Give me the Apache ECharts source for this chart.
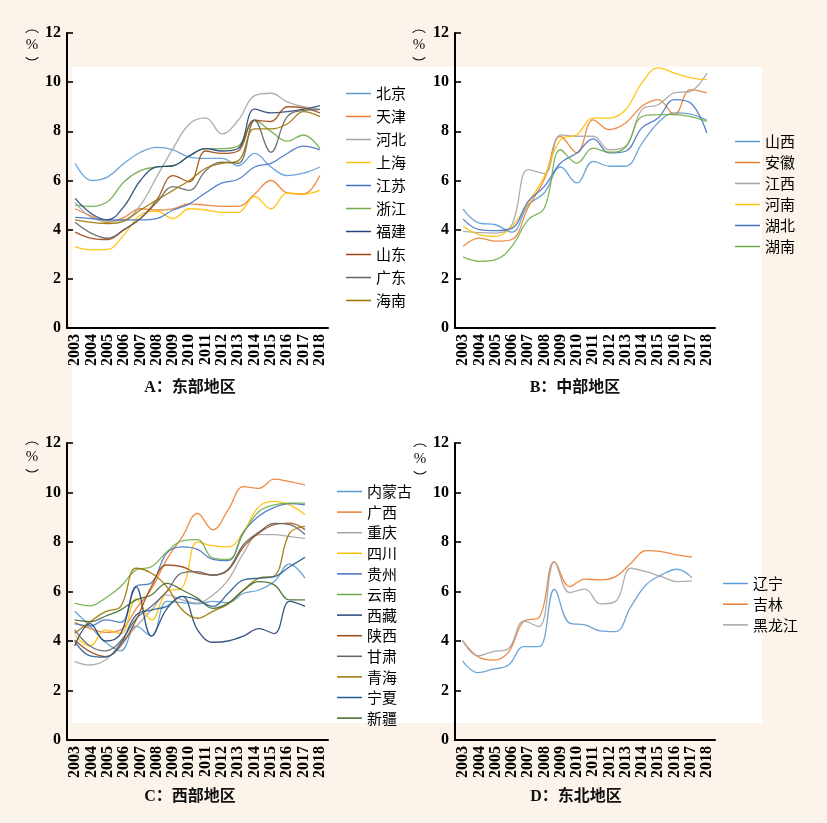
<!DOCTYPE html>
<html>
<head>
<meta charset="utf-8">
<script src="https://cdn.jsdelivr.net/npm/echarts@6/dist/echarts.min.js"></script>
<style>
html,body{margin:0;padding:0;background:#fcf4ea;}
#c{width:827px;height:823px;}
</style>
</head>
<body>
<div id="c"></div>
<script>
// ---------- categories ----------
const years = ['2003','2004','2005','2006','2007','2008','2009','2010','2011','2012','2013','2014','2015','2016','2017','2018'];
const yTickMin = 0, yTickMax = 12, yTickStep = 2;

// ---------- A: 东部地区 ----------
const eastNames = ['北京','天津','河北','上海','江苏','浙江','福建','山东','广东','海南'];
const beijing  = [6.7, 6.0, 6.15, 6.7, 7.15, 7.35, 7.25, 6.95, 6.9, 6.9, 6.6, 7.1, 6.55, 6.2, 6.3, 6.55];
const tianjin  = [4.85, 4.55, 4.3, 4.5, 4.85, 4.8, 4.85, 5.05, 5.0, 4.95, 4.95, 5.45, 6.0, 5.5, 5.45, 6.2];
const hebei    = [5.1, 4.5, 4.35, 4.4, 5.0, 6.15, 7.3, 8.3, 8.55, 7.9, 8.45, 9.45, 9.55, 9.2, 9.0, 8.9];
const shanghai = [3.3, 3.18, 3.2, 3.8, 4.6, 4.75, 4.45, 4.85, 4.8, 4.7, 4.7, 5.35, 4.85, 5.5, 5.45, 5.6];
const jiangsu  = [4.5, 4.45, 4.4, 4.4, 4.4, 4.45, 4.8, 5.05, 5.5, 5.9, 6.05, 6.55, 6.7, 7.1, 7.4, 7.25];
const zhejiang = [5.0, 4.95, 5.15, 5.95, 6.4, 6.55, 6.6, 7.0, 7.3, 7.3, 7.4, 8.45, 8.0, 7.6, 7.85, 7.3];
const fujian   = [5.27, 4.65, 4.4, 4.95, 6.0, 6.55, 6.6, 7.0, 7.3, 7.2, 7.3, 8.9, 8.75, 8.8, 8.9, 9.05];
const shandong = [3.9, 3.65, 3.6, 4.0, 4.45, 5.2, 6.2, 5.95, 7.2, 7.1, 7.2, 8.45, 8.4, 9.0, 8.95, 8.75];
const guangdong= [4.3, 3.85, 3.65, 4.0, 4.45, 5.1, 5.75, 5.6, 6.4, 6.75, 6.7, 8.45, 7.15, 8.6, 8.85, 8.88];
const hainan   = [4.4, 4.3, 4.25, 4.35, 4.8, 5.2, 5.6, 6.0, 6.5, 6.7, 6.8, 8.1, 8.1, 8.3, 8.8, 8.6];
const eastData = [beijing, tianjin, hebei, shanghai, jiangsu, zhejiang, fujian, shandong, guangdong, hainan];

// ---------- B: 中部地区 ----------
const centralNames = ['山西','安徽','江西','河南','湖北','湖南'];
const shanxi  = [4.84, 4.27, 4.2, 3.9, 5.0, 5.5, 6.55, 5.9, 6.78, 6.58, 6.58, 7.5, 8.35, 8.75, 8.7, 8.45];
const anhui   = [3.32, 3.66, 3.53, 3.6, 4.9, 6.05, 7.8, 7.12, 8.47, 8.07, 8.34, 9.02, 9.29, 8.68, 9.7, 9.56];
const jiangxi = [3.93, 3.88, 3.86, 4.2, 6.44, 6.28, 7.86, 7.8, 7.8, 7.25, 7.39, 8.88, 9.08, 9.56, 9.63, 10.37];
const henan   = [4.14, 3.8, 3.73, 4.14, 5.08, 6.17, 7.66, 7.86, 8.54, 8.54, 8.88, 9.97, 10.58, 10.37, 10.17, 10.1];
const hubei   = [4.43, 4.0, 3.96, 4.05, 5.15, 5.76, 6.71, 7.12, 7.69, 7.12, 7.19, 8.14, 8.54, 9.29, 9.15, 7.93];
const hunan   = [2.89, 2.71, 2.78, 3.32, 4.4, 4.88, 7.25, 6.71, 7.32, 7.15, 7.35, 8.6, 8.68, 8.68, 8.6, 8.4];
const centralData = [shanxi, anhui, jiangxi, henan, hubei, hunan];

// ---------- C: 西部地区 ----------
const westNames = ['内蒙古','广西','重庆','四川','贵州','云南','西藏','陕西','甘肃','青海','宁夏','新疆'];
const neimenggu = [5.2, 4.6, 3.95, 3.6, 4.6, 4.2, 5.6, 5.55, 5.5, 5.6, 5.55, 5.93, 6.06, 6.4, 7.12, 6.54];
const guangxi   = [4.75, 4.5, 4.35, 4.45, 5.3, 6.1, 7.3, 8.2, 9.16, 8.49, 9.3, 10.24, 10.17, 10.54, 10.44, 10.31];
const chongqing = [3.17, 3.03, 3.23, 3.9, 4.58, 5.25, 5.86, 5.66, 5.53, 5.86, 6.47, 7.55, 8.3, 8.3, 8.22, 8.15];
const sichuan   = [4.25, 3.8, 4.45, 4.3, 5.7, 4.85, 6.0, 6.15, 8.0, 7.85, 7.8, 8.42, 9.43, 9.64, 9.5, 9.1];
const guizhou   = [4.7, 4.6, 4.85, 4.75, 6.2, 6.35, 7.55, 7.8, 7.7, 7.3, 7.25, 8.4, 9.05, 9.4, 9.55, 9.5];
const yunnan    = [5.53, 5.42, 5.73, 6.2, 6.87, 7.0, 7.6, 8.05, 8.1, 7.35, 7.3, 8.36, 9.23, 9.5, 9.57, 9.57];
const xizang    = [3.8, 4.7, 4.0, 4.3, 6.2, 4.2, 5.3, 5.8, 4.45, 3.95, 4.0, 4.2, 4.5, 4.3, 5.6, 5.4];
const shaanxi   = [4.04, 3.57, 3.37, 3.8, 4.85, 6.2, 7.07, 7.0, 6.74, 6.67, 6.87, 7.8, 8.36, 8.7, 8.76, 8.5];
const gansu     = [4.45, 3.8, 3.6, 4.0, 4.9, 5.4, 6.0, 6.75, 6.8, 6.65, 6.9, 7.9, 8.4, 8.75, 8.7, 8.3];
const qinghai   = [4.31, 4.78, 5.19, 5.4, 6.94, 6.74, 6.2, 5.26, 4.92, 5.2, 5.5, 6.06, 6.54, 6.63, 8.36, 8.63];
const ningxia   = [3.98, 3.4, 3.35, 3.9, 5.05, 5.25, 5.4, 5.8, 5.66, 5.4, 5.93, 6.47, 6.54, 6.6, 7.0, 7.38];
const xinjiang  = [4.85, 4.78, 5.0, 5.26, 5.66, 5.86, 6.33, 6.06, 5.73, 5.32, 5.53, 6.06, 6.4, 6.27, 5.66, 5.66];
const westData = [neimenggu, guangxi, chongqing, sichuan, guizhou, yunnan, xizang, shaanxi, gansu, qinghai, ningxia, xinjiang];

// ---------- D: 东北地区 ----------
const northeastNames = ['辽宁','吉林','黑龙江'];
const liaoning     = [3.19, 2.72, 2.86, 3.03, 3.77, 3.77, 6.09, 4.72, 4.65, 4.41, 4.38, 5.39, 6.27, 6.67, 6.9, 6.56];
const jilin        = [4.02, 3.37, 3.23, 3.55, 4.8, 4.95, 7.21, 6.2, 6.5, 6.47, 6.6, 7.14, 7.65, 7.61, 7.48, 7.39];
const heilongjiang = [4.02, 3.4, 3.57, 3.7, 4.8, 4.58, 7.2, 5.96, 6.1, 5.5, 5.6, 6.94, 6.8, 6.6, 6.4, 6.43];
const northeastData = [liaoning, jilin, heilongjiang];

const panelTitles = ['A：东部地区','B：中部地区','C：西部地区','D：东北地区'];

// ---------- styling ----------
const palette = ['#5B9BD5','#ED7D31','#A5A5A5','#FFC000','#4472C4','#70AD47','#264478','#9E480E','#636363','#997300','#255E91','#43682B'];
const serif = '"Liberation Serif", "Times New Roman", serif';
const cjk = '"Liberation Serif", "Noto Sans CJK SC", sans-serif';

const grids = [
  {left: 67,  top: 33,  width: 261, height: 295},
  {left: 455, top: 33,  width: 260, height: 295},
  {left: 67,  top: 443, width: 261, height: 297},
  {left: 455, top: 443, width: 260, height: 297}
];

function visibleX(gi){
  return {
    type: 'category', gridIndex: gi, data: years, boundaryGap: true,
    axisLine: {lineStyle: {color: '#000', width: 2}},
    axisTick: {inside: true, length: 6, lineStyle: {color: '#000', width: 1.6}},
    axisLabel: {rotate: 90, interval: 0, color: '#000', fontFamily: serif, fontWeight: 'bold', fontSize: 16, margin: 6},
    splitLine: {show: false}
  };
}
function hiddenX(gi){
  return {
    type: 'category', gridIndex: gi, data: years.concat(['']), boundaryGap: true, show: false
  };
}
function yAxisFor(gi){
  return {
    type: 'value', gridIndex: gi, min: yTickMin, max: yTickMax, interval: yTickStep,
    axisLine: {show: true, lineStyle: {color: '#000', width: 2}},
    axisTick: {show: true, inside: true, length: 6, lineStyle: {color: '#000', width: 1.6}},
    axisLabel: {color: '#000', fontFamily: serif, fontWeight: 'bold', fontSize: 16, margin: 6},
    splitLine: {show: false}
  };
}

const xAxes = [visibleX(0), visibleX(1), visibleX(2), visibleX(3), hiddenX(2), hiddenX(3)];
const yAxes = [yAxisFor(0), yAxisFor(1), yAxisFor(2), yAxisFor(3)];

const panels = [
  {names: eastNames, data: eastData, grid: 0, xi: 0},
  {names: centralNames, data: centralData, grid: 1, xi: 1},
  {names: westNames, data: westData, grid: 2, xi: 4},
  {names: northeastNames, data: northeastData, grid: 3, xi: 5}
];

const series = [];
panels.forEach(p => {
  p.names.forEach((n, i) => {
    series.push({
      name: n, type: 'line', xAxisIndex: p.xi, yAxisIndex: p.grid,
      data: p.data[i], smooth: 0.4, symbol: 'none', showSymbol: false,
      color: palette[i],
      itemStyle: {color: palette[i]},
      lineStyle: {width: 1.3, color: palette[i], opacity: 0.9},
      emphasis: {disabled: true}, z: 3
    });
  });
});

const legendPos = [
  {left: 346, top: 86, gap: 8},
  {left: 735, top: 134, gap: 6},
  {left: 337, top: 484, gap: 5.6},
  {left: 723, top: 576, gap: 5.7}
];
const legends = panels.map((p, k) => ({
  data: p.names.map(n => ({name: n, icon: 'rect'})),
  orient: 'vertical', left: legendPos[k].left, top: legendPos[k].top,
  itemWidth: 25, itemHeight: 1.5, itemGap: legendPos[k].gap,
  textStyle: {color: '#000', fontSize: 15, lineHeight: 15, fontFamily: '"Noto Sans CJK SC", sans-serif'},
  selectedMode: false, padding: 0
}));

const titleCenters = [[190, 388], [575, 388], [190, 797], [576, 797]];
const percentPos = [[32, 45], [419, 45], [32, 457], [420, 459]];

const graphics = [
  {type: 'rect', left: 72, top: 67, shape: {width: 690, height: 656}, style: {fill: '#ffffff'}, z: -10, silent: true}
];
titleCenters.forEach((c, k) => {
  graphics.push({
    type: 'text', x: c[0], y: c[1], z: 10,
    style: {text: panelTitles[k], fill: '#111', font: 'bold 16px ' + cjk, align: 'center', verticalAlign: 'middle'}
  });
});
percentPos.forEach(c => {
  graphics.push({type: 'arc', z: 10, silent: true,
    shape: {cx: c[0], cy: c[1] - 6, r: 9, startAngle: Math.PI * 1.25, endAngle: Math.PI * 1.75, clockwise: true},
    style: {stroke: '#111', fill: null, lineWidth: 1.1}});
  graphics.push({type: 'text', x: c[0], y: c[1], z: 10,
    style: {text: '%', fill: '#111', font: '15px ' + serif, align: 'center', verticalAlign: 'middle'}});
  graphics.push({type: 'arc', z: 10, silent: true,
    shape: {cx: c[0], cy: c[1] + 6, r: 9, startAngle: Math.PI * 0.25, endAngle: Math.PI * 0.75, clockwise: true},
    style: {stroke: '#111', fill: null, lineWidth: 1.1}});
});

const chart = echarts.init(document.getElementById('c'), null, {renderer: 'canvas'});
chart.setOption({
  backgroundColor: '#fcf4ea',
  animation: false,
  grid: grids,
  xAxis: xAxes,
  yAxis: yAxes,
  legend: legends,
  series: series,
  graphic: graphics
});
</script>
</body>
</html>
